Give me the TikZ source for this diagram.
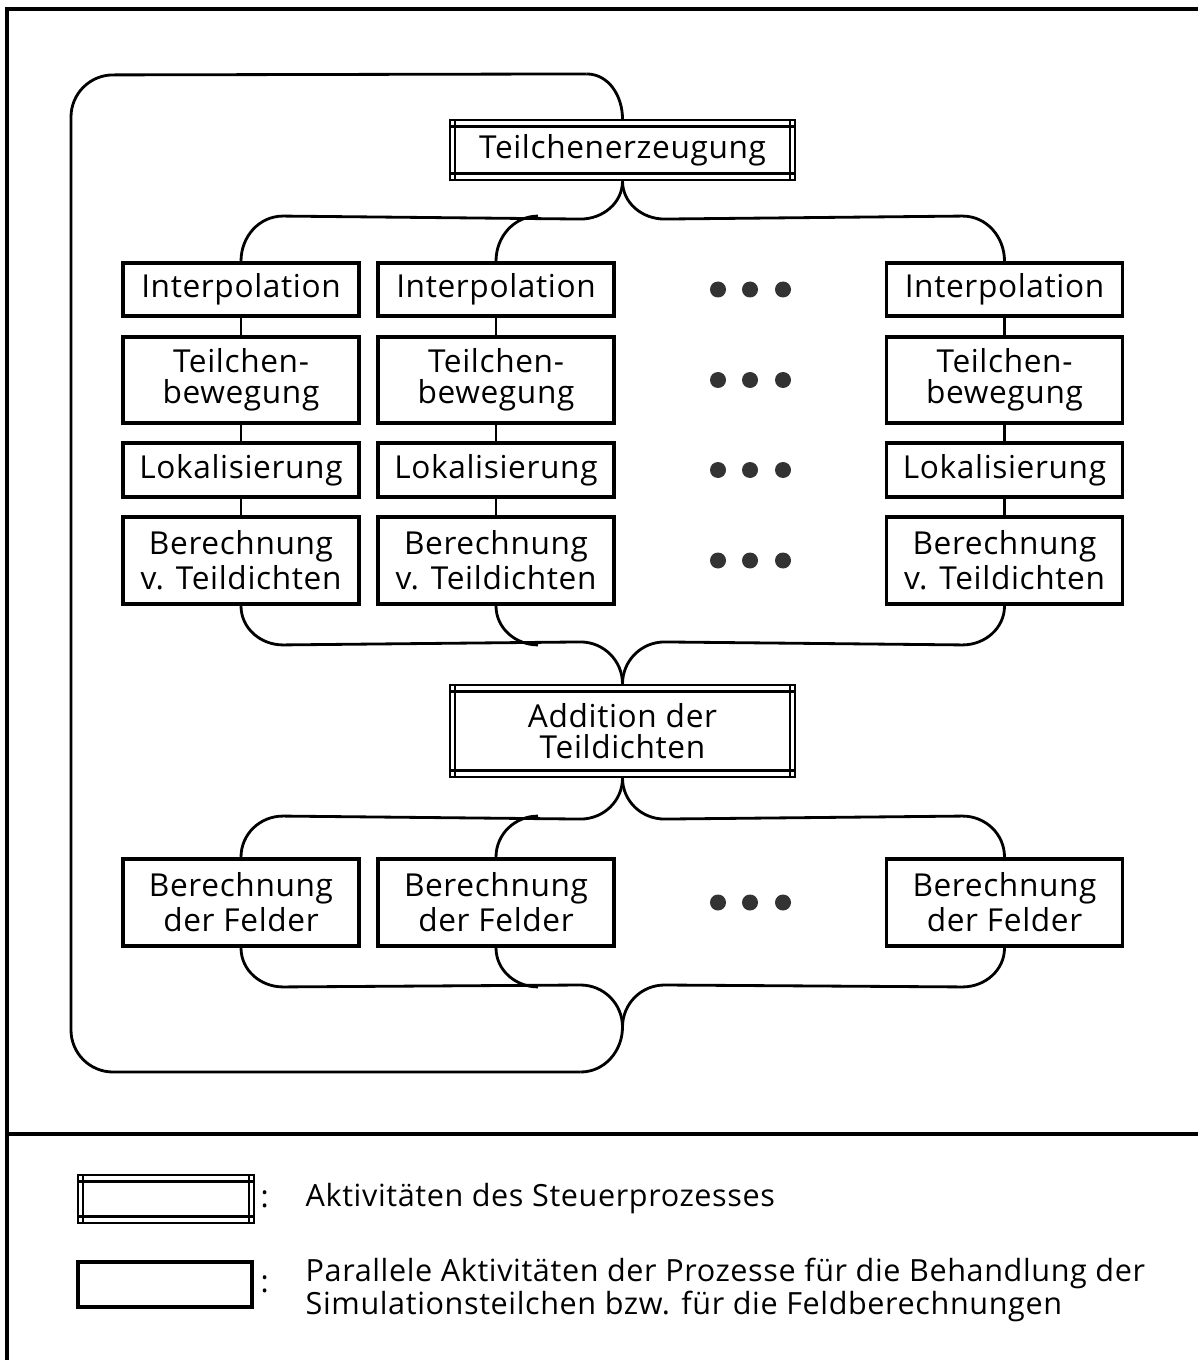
\documentclass[tikz,border=0pt]{standalone}
\usepackage{fontspec}
\setmainfont{Open Sans}[LetterSpace=2.0]
\usetikzlibrary{calc}
\begin{document}
\begin{tikzpicture}[
  font=\fontsize{9}{8.8}\selectfont,
  flow/.style={line width=0.8pt},
  proc/.style={draw, line width=1.1pt, minimum width=2.36cm, inner sep=0pt, align=center},
  ctrl/.style={draw, line width=0.6pt, minimum width=3.45cm, inner sep=0pt, align=center,
    path picture={
      \draw[line width=0.6pt]
        ([yshift=-0.065cm]path picture bounding box.north west) -- ([yshift=-0.065cm]path picture bounding box.north east)
        ([yshift=0.065cm]path picture bounding box.south west) -- ([yshift=0.065cm]path picture bounding box.south east)
        ([xshift=0.05cm]path picture bounding box.north west) -- ([xshift=0.05cm]path picture bounding box.south west)
        ([xshift=-0.05cm]path picture bounding box.north east) -- ([xshift=-0.05cm]path picture bounding box.south east);}},
  legtext/.style={anchor=west, inner sep=0pt, font=\fontsize{8.7}{9.2}\selectfont},
  pdot/.style={circle, fill=black!80, inner sep=0pt, minimum size=0.16cm}]
  \useasboundingbox (0,0) rectangle (11.98,-13.6);
  % Rahmen
  \draw[line width=1pt] (0.07,-13.6) -- (0.07,-0.09) -- (11.98,-0.09);
  \draw[line width=1pt] (0.07,-11.34) -- (11.98,-11.34);
  % Steuerprozess
  \node[ctrl, minimum height=0.60cm] (gen) at (6.225,-1.50) {Teilchenerzeugung};
  \node[ctrl, minimum height=0.92cm] (add) at (6.225,-7.31) {Addition der\\Teildichten};
  % Prozesse fuer die Teilchen und die Felder
  \foreach \c/\x in {1/2.41, 2/4.96, 3/10.045} {
    \node[proc, minimum height=0.53cm] (ip\c) at (\x,-2.895) {Interpolation};
    \node[proc, minimum height=0.86cm] (tb\c) at (\x,-3.80) {Teilchen-\\bewegung};
    \node[proc, minimum height=0.54cm] (lk\c) at (\x,-4.70) {Lokalisierung};
    \node[proc, minimum height=0.87cm] (td\c) at (\x,-5.605) {Berechnung\\v. Teildichten};
    \node[proc, minimum height=0.87cm] (fd\c) at (\x,-9.025) {Berechnung\\der Felder};
    \draw[flow] (ip\c) -- (tb\c) -- (lk\c) -- (td\c);
  }
  \foreach \y [count=\r] in {-2.895,-3.80,-4.70,-5.605,-9.025}
    \foreach \x [count=\k] in {7.18,7.50,7.83}
      \node[pdot] (dot\r\k) at (\x,\y) {};
  % Verzweigung nach der Teilchenerzeugung
  \draw[flow] (gen.south) to[out=-90,in=0] ++(-0.42,-0.38) -- ($(ip1.north)+(0.42,0.45)$) to[out=180,in=90] (ip1.north);
  \draw[flow] ($(ip2.north)+(0.42,0.45)$) to[out=180,in=90] (ip2.north);
  \draw[flow] (gen.south) to[out=-90,in=180] ++(0.42,-0.38) -- ($(ip3.north)+(-0.42,0.45)$) to[out=0,in=90] (ip3.north);
  % Zusammenfuehrung zur Addition
  \draw[flow] (td1.south) to[out=-90,in=180] ++(0.42,-0.39) -- ($(add.north)+(-0.42,0.42)$) to[out=0,in=90] (add.north);
  \draw[flow] (td2.south) to[out=-90,in=180] ++(0.42,-0.39);
  \draw[flow] (td3.south) to[out=-90,in=0] ++(-0.42,-0.39) -- ($(add.north)+(0.42,0.42)$) to[out=180,in=90] (add.north);
  % Verzweigung zur Feldberechnung
  \draw[flow] (add.south) to[out=-90,in=0] ++(-0.42,-0.41) -- ($(fd1.north)+(0.42,0.41)$) to[out=180,in=90] (fd1.north);
  \draw[flow] ($(fd2.north)+(0.42,0.41)$) to[out=180,in=90] (fd2.north);
  \draw[flow] (add.south) to[out=-90,in=180] ++(0.42,-0.41) -- ($(fd3.north)+(-0.42,0.41)$) to[out=0,in=90] (fd3.north);
  % Rueckfuehrung
  \coordinate (mrg) at (6.225,-10.27);
  \draw[flow] (fd1.south) to[out=-90,in=180] ++(0.42,-0.39) -- ($(mrg)+(-0.42,0.42)$) to[out=0,in=90] (mrg);
  \draw[flow] (fd2.south) to[out=-90,in=180] ++(0.42,-0.39);
  \draw[flow] (fd3.south) to[out=-90,in=0] ++(-0.42,-0.39) -- ($(mrg)+(0.42,0.42)$) to[out=180,in=90] (mrg);
  \draw[flow] (mrg) to[out=-90,in=0] ++(-0.42,-0.45) coordinate (lb);
  \draw[flow, rounded corners=0.42cm] (lb) -- (0.71,-10.72) -- (0.71,-0.75) -- ($(gen.north)+(-0.36,0.45)$) coordinate (lt);
  \draw[flow] (lt) to[out=0,in=90] (gen.north);
  % Legende
  \node[ctrl, minimum width=1.76cm, minimum height=0.48cm] (lg1) at (1.66,-11.99) {};
  \node[legtext] (lc1) at (2.60,-11.99) {:};
  \node[legtext] (lt1) at (3.05,-11.99) {Aktivitäten des Steuerprozesses};
  \node[proc, minimum width=1.74cm, minimum height=0.45cm] (lg2) at (1.65,-12.845) {};
  \node[legtext] (lc2) at (2.60,-12.845) {:};
  \node[legtext, align=left] (lt2) at (3.05,-12.90) {Parallele Aktivitäten der Prozesse für die Behandlung der\\Simulationsteilchen bzw. für die Feldberechnungen};
\end{tikzpicture}
\end{document}
